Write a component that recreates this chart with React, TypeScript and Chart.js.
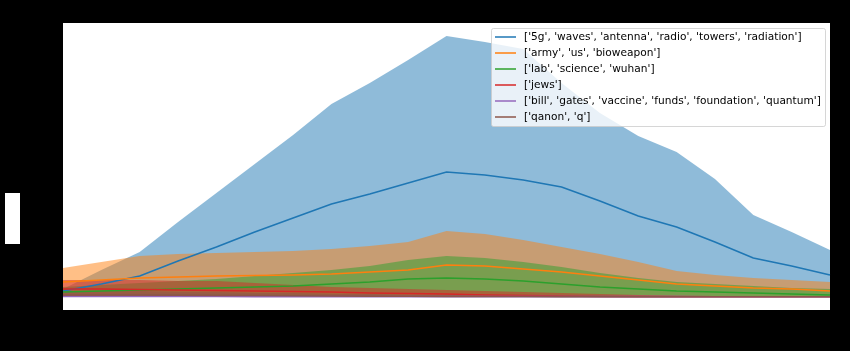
import React, { useEffect, useRef } from "react";
import { Chart, registerables } from "chart.js";

Chart.register(...registerables);

const steps: string[] = Array.from({ length: 21 }, (_, i) => String(i));

const seriesLabels: string[] = [
  "['5g', 'waves', 'antenna', 'radio', 'towers', 'radiation']",
  "['army', 'us', 'bioweapon']",
  "['lab', 'science', 'wuhan']",
  "['jews']",
  "['bill', 'gates', 'vaccine', 'funds', 'foundation', 'quantum']",
  "['qanon', 'q']",
];

const colors: string[] = ["#1f77b4", "#ff7f0e", "#2ca02c", "#d62728", "#9467bd", "#8c564b"];
const fillColors: string[] = [
  "rgba(31,119,180,0.5)",
  "rgba(255,127,14,0.5)",
  "rgba(44,160,44,0.5)",
  "rgba(214,39,40,0.5)",
  "rgba(148,103,189,0.5)",
  "rgba(140,86,75,0.5)",
];

// mean values
const meanFiveG = [6, 13, 21, 36, 50, 65, 79, 93, 103, 114, 125, 122, 117, 110, 96, 81, 70, 55, 39, 31, 22];
const meanArmy = [15, 17, 19, 20, 21, 21.5, 22, 23, 25, 27, 32, 31, 28, 25, 21, 17, 13, 11, 9, 8, 6];
const meanLab = [5, 6, 7, 8, 9, 10, 11, 13, 15, 18, 19, 18, 16, 13, 10, 8, 6, 5, 4, 3, 2];
const meanJews = [8, 8, 7.5, 7, 6.5, 6, 5.5, 5, 4, 3.5, 3, 2, 1.5, 1, 0.5, 0.3, 0.3, 0.2, 0.2, 0.2, 0.2];
const meanBill = [0.4, 0.4, 0.4, 0.4, 0.4, 0.3, 0.3, 0.3, 0.3, 0.3, 0.3, 0.3, 0.3, 0.3, 0.3, 0.3, 0.3, 0.2, 0.2, 0.2, 0.2];
const meanQanon = [2, 2, 2, 1.8, 1.6, 1.4, 1.2, 1, 0.8, 0.7, 0.6, 0.5, 0.4, 0.3, 0.3, 0.2, 0.2, 0.2, 0.2, 0.2, 0.2];

// upper band values
const upperFiveG = [8, 27, 45, 75, 104, 133, 162, 193, 214, 237, 261, 255, 248, 214, 184, 161, 145, 118, 82, 65, 47];
const upperArmy = [29, 35, 41, 43, 44, 45, 46, 48, 51, 55, 66, 63, 57, 50, 43, 35, 26, 22, 19, 17, 15];
const upperLab = [10, 12, 14, 16, 18, 21, 24, 27, 31, 37, 41, 39, 35, 30, 24, 19, 15, 13, 11, 9, 8];
const upperJews = [17, 17, 17, 16, 16, 14, 12, 10, 9, 8, 7, 6, 5, 4, 3, 2, 1, 0.5, 0.5, 0.5, 0.5];
const upperBill = [1, 1, 1, 1, 0.9, 0.9, 0.8, 0.8, 0.8, 0.8, 0.8, 0.8, 0.7, 0.7, 0.7, 0.6, 0.6, 0.6, 0.5, 0.5, 0.5];
const upperQanon = [6, 6, 6, 5, 5, 4, 4, 3, 3, 2, 2, 2, 1.5, 1, 1, 0.8, 0.6, 0.5, 0.5, 0.5, 0.5];

const means = [meanFiveG, meanArmy, meanLab, meanJews, meanBill, meanQanon];
const uppers = [upperFiveG, upperArmy, upperLab, upperJews, upperBill, upperQanon];

const decorPlugin = {
  id: "decor",
  beforeDraw(chart: any) {
    const { ctx, chartArea } = chart;
    ctx.save();
    ctx.fillStyle = "#000000";
    ctx.fillRect(0, 0, chart.width, chart.height);
    ctx.fillStyle = "#ffffff";
    ctx.fillRect(chartArea.left, chartArea.top, chartArea.right - chartArea.left, chartArea.bottom - chartArea.top);
    // y-label box
    ctx.fillRect(5, 193, 15, 51);
    ctx.restore();
  },
  afterDraw(chart: any) {
    const { ctx } = chart;
    const x0 = 491, y0 = 28, w = 334, h = 98;
    ctx.save();
    ctx.beginPath();
    ctx.roundRect(x0 + 0.5, y0 + 0.5, w, h, 2);
    ctx.fillStyle = "rgba(255,255,255,0.8)";
    ctx.fill();
    ctx.strokeStyle = "rgba(204,204,204,0.8)";
    ctx.lineWidth = 1;
    ctx.stroke();
    ctx.font = "10.6px 'DejaVu Sans'";
    ctx.textBaseline = "middle";
    ctx.textAlign = "left";
    seriesLabels.forEach((label, i) => {
      const yc = 37 + i * 16;
      ctx.beginPath();
      ctx.moveTo(495, yc);
      ctx.lineTo(516, yc);
      ctx.strokeStyle = colors[i];
      ctx.lineWidth = 1.5;
      ctx.stroke();
      ctx.fillStyle = "#000000";
      ctx.fillText(label, 524, yc);
    });
    ctx.restore();
  },
};

export default function App() {
  const ref = useRef<HTMLCanvasElement>(null);
  useEffect(() => {
    if (!ref.current) return;
    const maxV = Math.max(...uppers.flat());
    const margin = maxV * 0.05;
    const bandSets = uppers.map((u, i) => ({
      label: seriesLabels[i] + " band",
      data: u,
      borderWidth: 0,
      pointRadius: 0,
      backgroundColor: fillColors[i],
      borderColor: "rgba(0,0,0,0)",
      fill: "origin",
      tension: 0,
      order: 100 - i,
    }));
    const lineSets = means.map((m, i) => ({
      label: seriesLabels[i],
      data: m,
      borderWidth: 1.6,
      pointRadius: 0,
      borderColor: colors[i],
      backgroundColor: colors[i],
      fill: false,
      tension: 0,
      order: 50 - i,
    }));
    const chart = new Chart(ref.current, {
      type: "line",
      data: { labels: steps, datasets: [...lineSets, ...bandSets] as any },
      options: {
        animation: false,
        responsive: false,
        maintainAspectRatio: false,
        layout: { padding: { left: 63, top: 23, right: 20, bottom: 41 } },
        plugins: { legend: { display: false }, tooltip: { enabled: false } },
        scales: {
          x: { type: "category", offset: false, display: false },
          y: { type: "linear", min: -margin, max: maxV + margin, display: false },
        },
      },
      plugins: [decorPlugin],
    });
    return () => chart.destroy();
  }, []);
  return (
    <div style={{ position: "fixed", left: 0, top: 0, width: 850, height: 351, background: "#000" }}>
      <canvas ref={ref} width={850} height={351} style={{ width: 850, height: 351, display: "block" }} />
    </div>
  );
}
